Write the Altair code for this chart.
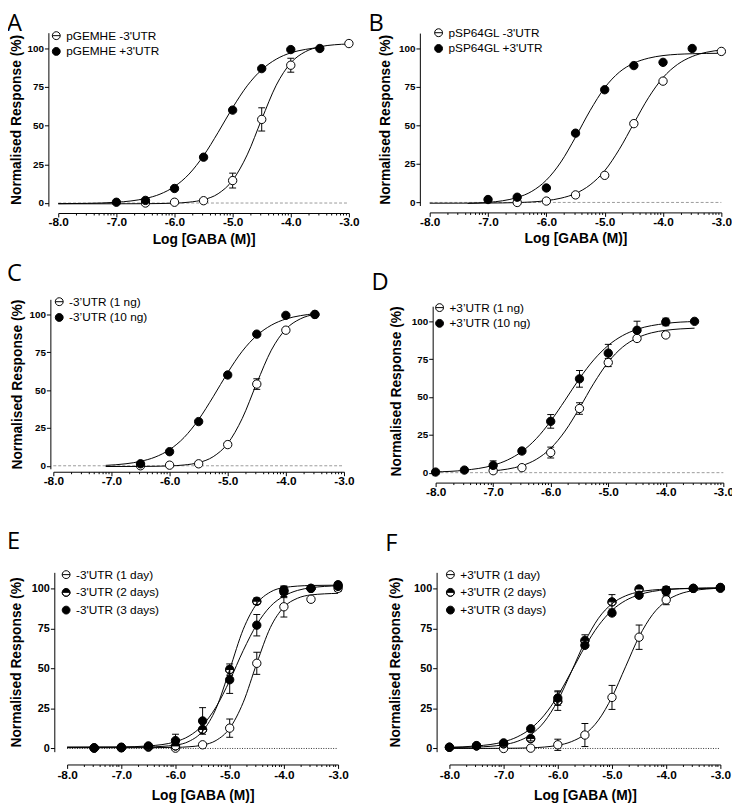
import numpy as np
import pandas as pd
import altair as alt

FONT = "Liberation Sans"
LETTER_FONT = "Open Sans"

# ---- symbol paths ----
CIRCLE = "M1,0A1,1,0,1,1,-1,0A1,1,0,1,1,1,0Z"
HALF = "M-1,0A1,1,0,0,1,1,0ZM1,0A1,1,0,0,1,-1,0A1,1,0,0,0,1,0"
OPEN_LEG = CIRCLE + "M-1,0L1,0"
KIND = {"open": (CIRCLE, "white", OPEN_LEG), "fill": (CIRCLE, "black", CIRCLE), "half": (HALF, "black", HALF)}

# ---- axis ticks ----
MAJOR = [-8, -7, -6, -5, -4, -3]
MINOR = [round(d + np.log10(k), 4) for d in MAJOR[:-1] for k in range(2, 10)]
XTICKS = sorted(MAJOR + MINOR)
YTICKS = [0, 25, 50, 75, 100]

# ================= DATA =================
# Panel A
A_open_x = [-6.5, -6.0, -5.5, -5.0, -4.5, -4.0, -3.0]
A_open_y = [0.0, 0.5, 1.5, 14.5, 54.0, 89.0, 103.0]
A_open_e = [0, 0, 0, 4.8, 7.5, 4.5, 0]
A_fill_x = [-7.0, -6.5, -6.0, -5.5, -5.0, -4.5, -4.0, -3.5]
A_fill_y = [0.5, 1.7, 9.4, 29.6, 60.0, 86.8, 99.1, 99.8]
A_fill_e = [0, 0, 0, 0, 0, 0, 0, 0]
A_open_cx = [-8.0, -7.0, -6.5, -6.0, -5.75, -5.5, -5.25, -5.0, -4.75, -4.5, -4.25, -4.0, -3.75, -3.5, -3.25, -3.0]
A_open_cy = [-0.5, -0.5, -0.44, -0.09, 0.55, 2.15, 6.0, 14.7, 31.1, 54.1, 76.1, 90.5, 97.7, 100.9, 102.2, 102.7]
A_fill_cx = [-8.0, -7.5, -7.0, -6.75, -6.5, -6.25, -6.0, -5.75, -5.5, -5.25, -5.0, -4.75, -4.5, -4.25, -4.0, -3.75, -3.5]
A_fill_cy = [-0.42, -0.22, 0.49, 1.33, 2.92, 5.72, 10.67, 18.7, 30.6, 45.6, 61.6, 75.7, 86.1, 92.9, 97.0, 99.2, 100.5]

# Panel B
B_open_x = [-6.5, -6.0, -5.5, -5.0, -4.5, -4.0, -3.0]
B_open_y = [0.0, 0.9, 4.9, 17.6, 51.2, 78.8, 98.1]
B_open_e = [0, 0, 0, 0, 0, 0, 0]
B_fill_x = [-7.0, -6.5, -6.0, -5.5, -5.0, -4.5, -4.0, -3.5]
B_fill_y = [1.9, 3.4, 9.4, 45.0, 73.2, 88.9, 91.0, 100.0]
B_fill_e = [0, 0, 0, 0, 0, 0, 0, 0]
B_open_cx = [-8.0, -7.5, -7.0, -6.5, -6.0, -5.75, -5.5, -5.25, -5.0, -4.75, -4.5, -4.25, -4.0, -3.75, -3.5, -3.25, -3.0]
B_open_cy = [-0.5, -0.47, -0.4, -0.08, 1.17, 2.77, 5.81, 11.4, 20.6, 34.5, 51.4, 68.0, 81.1, 89.7, 94.8, 97.6, 99.0]
B_fill_cx = [-7.35, -7.0, -6.75, -6.5, -6.25, -6.0, -5.75, -5.5, -5.25, -5.0, -4.75, -4.5, -4.25, -4.0, -3.5, -3.0]
B_fill_cy = [-0.62, 0.03, 1.1, 3.19, 7.2, 14.5, 26.3, 42.4, 59.7, 74.5, 84.6, 90.5, 93.7, 95.4, 96.6, 96.9]

# Panel C
C_open_x = [-6.5, -6.0, -5.5, -5.0, -4.5, -4.0, -3.5]
C_open_y = [0.0, 0.4, 1.3, 14.0, 54.0, 89.6, 100.0]
C_open_e = [0, 0, 0, 0, 3.5, 0, 0]
C_fill_x = [-6.5, -6.0, -5.5, -5.0, -4.5, -4.0, -3.5]
C_fill_y = [1.3, 9.3, 29.2, 60.0, 87.0, 99.4, 100.0]
C_fill_e = [0, 0, 0, 0, 0, 0, 0]
C_open_cx = [-7.1, -6.5, -6.0, -5.75, -5.5, -5.25, -5.0, -4.75, -4.5, -4.25, -4.0, -3.75, -3.5]
C_open_cy = [-0.5, -0.44, -0.1, 0.51, 2.1, 6.0, 14.7, 31.3, 54.6, 76.4, 90.3, 97.1, 100.1]
C_fill_cx = [-7.1, -6.75, -6.5, -6.25, -6.0, -5.75, -5.5, -5.25, -5.0, -4.75, -4.5, -4.25, -4.0, -3.75, -3.5]
C_fill_cy = [0.27, 1.33, 2.92, 5.72, 10.67, 18.7, 30.6, 45.6, 61.6, 75.7, 86.1, 92.9, 97.0, 99.2, 100.5]

# Panel D
D_open_x = [-7.0, -6.5, -6.0, -5.5, -5.0, -4.5, -4.0]
D_open_y = [1.3, 3.3, 13.3, 42.4, 72.8, 88.7, 91.0]
D_open_e = [0, 0, 3.6, 3.8, 2.7, 1.5, 0]
D_fill_x = [-8.0, -7.5, -7.0, -6.5, -6.0, -5.5, -5.0, -4.5, -4.0, -3.5]
D_fill_y = [0.4, 1.7, 4.8, 14.3, 33.9, 62.0, 79.0, 94.1, 99.6, 100.0]
D_fill_e = [0, 0, 3.0, 0, 4.5, 5.5, 5.8, 6.0, 2.5, 0]
D_open_cx = [-7.0, -6.75, -6.5, -6.25, -6.0, -5.75, -5.5, -5.25, -5.0, -4.75, -4.5, -4.25, -4.0, -3.75, -3.5]
D_open_cy = [1.2, 2.37, 4.62, 8.8, 16.1, 27.5, 42.7, 59.1, 73.1, 83.0, 89.0, 92.4, 94.1, 95.0, 95.5]
D_fill_cx = [-8.0, -7.5, -7.0, -6.75, -6.5, -6.25, -6.0, -5.75, -5.5, -5.25, -5.0, -4.75, -4.5, -4.0, -3.5]
D_fill_cy = [0.51, 1.6, 4.9, 8.4, 14.0, 22.5, 34.1, 47.9, 62.2, 74.6, 84.1, 90.6, 94.7, 98.6, 99.9]

# Panel E
E_x = [-7.5, -7.0, -6.5, -6.0, -5.5, -5.0, -4.5, -4.0, -3.5, -3.0]
E_open_y = [0.2, 0.4, 0.8, 0.2, 2.3, 12.7, 53.2, 88.5, 93.2, 100.0]
E_open_e = [0, 0, 0, 0, 0, 5.7, 6.9, 6.4, 0, 2.0]
E_half_y = [0.4, 0.6, 1.2, 1.6, 11.9, 49.3, 92.0, 99.0, 100.0, 102.3]
E_half_e = [0, 0, 0, 0, 0, 3.5, 2.0, 2.5, 0, 1.5]
E_fill_y = [0.4, 0.8, 1.6, 4.9, 17.2, 42.9, 77.0, 97.7, 100.0, 101.2]
E_fill_e = [0, 0, 0, 4.0, 8.3, 8.5, 6.7, 3.5, 0, 0]
E_open_cx = [-8.0, -6.5, -6.0, -5.75, -5.5, -5.25, -5.0, -4.75, -4.5, -4.25, -4.0, -3.75, -3.5, -3.0]
E_open_cy = [0.5, 0.5, 0.69, 1.06, 2.11, 5.03, 12.6, 28.8, 53.2, 75.5, 88.3, 93.8, 95.9, 96.9]
E_half_cx = [-8.0, -7.0, -6.5, -6.0, -5.75, -5.5, -5.25, -5.0, -4.75, -4.5, -4.25, -4.0, -3.5, -3.0]
E_half_cy = [0.8, 0.8, 0.95, 2.1, 4.46, 10.8, 25.1, 49.3, 74.4, 90.4, 97.7, 100.5, 101.8, 102.0]
E_fill_cx = [-8.0, -7.0, -6.5, -6.0, -5.75, -5.5, -5.25, -5.0, -4.75, -4.5, -4.25, -4.0, -3.75, -3.5, -3.0]
E_fill_cy = [0.8, 0.97, 1.59, 4.22, 7.76, 14.5, 26.0, 42.4, 61.2, 77.4, 88.7, 95.2, 98.7, 100.4, 101.6]

# Panel F
F_open_x = [-7.0, -6.5, -6.0, -5.5, -5.0, -4.5, -4.0, -3.0]
F_open_y = [0.0, 0.2, 2.3, 8.4, 31.9, 69.5, 92.8, 100.0]
F_open_e = [0, 0, 3.5, 7.2, 7.5, 7.6, 3.0, 0]
F_x = [-8.0, -7.5, -7.0, -6.5, -6.0, -5.5, -5.0, -4.5, -4.0, -3.5, -3.0]
F_half_y = [0.8, 1.6, 2.9, 6.2, 29.6, 67.5, 91.6, 99.6, 99.0, 100.0, 100.6]
F_half_e = [0, 0, 0, 1.5, 5.8, 3.5, 4.5, 0, 2.0, 0, 0]
F_fill_y = [0.8, 1.8, 3.5, 12.3, 31.5, 64.4, 84.6, 95.7, 98.1, 100.0, 100.4]
F_fill_e = [0, 0, 0, 0, 4.5, 0, 0, 0, 3.0, 0, 0]
F_open_cx = [-8.0, -7.0, -6.5, -6.0, -5.75, -5.5, -5.25, -5.0, -4.75, -4.5, -4.25, -4.0, -3.75, -3.5, -3.25, -3.0]
F_open_cy = [0.0, 0.09, 0.41, 1.97, 4.24, 8.9, 17.7, 32.1, 51.0, 69.8, 83.7, 92.1, 96.5, 98.6, 99.6, 100.1]
F_half_cx = [-8.0, -7.5, -7.0, -6.75, -6.5, -6.25, -6.0, -5.75, -5.5, -5.25, -5.0, -4.75, -4.5, -4.0, -3.5, -3.0]
F_half_cy = [0.58, 0.89, 2.33, 4.39, 8.59, 16.6, 29.9, 47.9, 66.6, 81.3, 90.4, 95.3, 97.8, 99.5, 99.9, 100.0]
F_fill_cx = [-8.0, -7.5, -7.0, -6.75, -6.5, -6.25, -6.0, -5.75, -5.5, -5.25, -5.0, -4.75, -4.5, -4.0, -3.5, -3.0]
F_fill_cy = [0.8, 1.56, 4.17, 7.2, 12.4, 20.8, 32.9, 48.0, 63.5, 76.7, 86.3, 92.4, 96.0, 99.2, 100.1, 100.4]

X_TITLE = "Log [GABA (M)]"
Y_TITLE = "Normalised Response (%)"
X_DOMAIN = [-8, -3]
Y_DOMAIN = [-2, 110]
IS_MAJOR = "abs(datum.value - round(datum.value)) < 0.001"


def panel(letter, series, c):
    pts_rows, crv_rows = [], []
    for label, kind, px, py, pe, cx, cy in series:
        for a, b, e in zip(px, py, pe):
            pts_rows.append({"series": label, "x": a, "y": b, "lo": b - e, "hi": b + e, "err": e})
        for a, b in zip(cx, cy):
            crv_rows.append({"curve": label, "x": a, "y": b})
    pts = pd.DataFrame(pts_rows)
    crv = pd.DataFrame(crv_rows)
    zero = pd.DataFrame({"zero": [0], "x0": [X_DOMAIN[0]], "x1": [X_DOMAIN[1]]})

    xscale = alt.Scale(domain=X_DOMAIN, range=[c["xl"], c["xr"]], nice=False, zero=False)
    yscale = alt.Scale(domain=Y_DOMAIN, range=[c["yb"], c["yt"]], nice=False, zero=False)
    xaxis = alt.Axis(
        values=XTICKS,
        labelExpr=f"{IS_MAJOR} ? ((datum.value < 0 ? '-' : '') + format(abs(datum.value), '.1f')) : ''",
        tickSize={"condition": {"test": IS_MAJOR, "value": 4}, "value": 2},
        offset=c["xoff"], grid=False, domainColor="black", tickColor="black",
        domainWidth=1, tickWidth=1, labelFont=FONT, labelFontSize=12, labelFontWeight="bold",
        labelColor="black", labelOverlap=False, labelPadding=c.get("xlp", 0), labelFlush=False,
        titleFont=FONT, titleFontSize=14, titleFontWeight="bold", titleColor="black",
        titlePadding=c.get("xtp", 5),
    )
    yaxis = alt.Axis(
        values=YTICKS, offset=c["yoff"], grid=False, domainColor="black", tickColor="black",
        tickSize=4, labelFont=FONT, labelFontSize=c["ylab"], labelFontWeight="bold",
        labelColor="black", labelPadding=1, labelFlush=False,
        titleFont=FONT, titleFontSize=14, titleFontWeight="bold", titleColor="black",
        titlePadding=c["ytp"],
    )
    xt = X_TITLE if c["xtitle"] else None

    def X(f):
        return alt.X(f"{f}:Q", scale=xscale, axis=xaxis, title=xt)

    def Y(f):
        return alt.Y(f"{f}:Q", scale=yscale, axis=yaxis, title=Y_TITLE)

    layers = []
    if c["dotted"]:
        zl = alt.Chart(zero).mark_rule(color="#333333", strokeWidth=1, strokeDash=[1, 1.5])
    else:
        zl = alt.Chart(zero).mark_rule(color="#9a9a9a", strokeWidth=1, strokeDash=[3, 2])
    layers.append(zl.encode(x=X("x0"), x2="x1:Q", y=Y("zero")))

    layers.append(
        alt.Chart(crv).mark_line(color="black", strokeWidth=1, interpolate="monotone")
        .encode(x=X("x"), y=Y("y"), detail="curve:N")
    )
    eb = alt.Chart(pts).transform_filter("datum.err > 0")
    layers.append(eb.mark_rule(color="black", strokeWidth=1).encode(x=X("x"), y=Y("lo"), y2="hi:Q"))
    layers.append(eb.mark_tick(orient="horizontal", size=7, thickness=1, color="black", opacity=1)
                  .encode(x=X("x"), y=Y("lo")))
    layers.append(eb.mark_tick(orient="horizontal", size=7, thickness=1, color="black", opacity=1)
                  .encode(x=X("x"), y=Y("hi")))

    labels, leg_shapes, leg_fills = [], [], []
    for label, kind, *_ in series:
        shp, fil, lshp = KIND[kind]
        labels.append(label)
        leg_shapes.append(lshp)
        leg_fills.append(fil)
        layers.append(
            alt.Chart(pts).transform_filter(alt.datum.series == label)
            .mark_point(shape=shp, fill=fil, stroke="black", strokeWidth=1, size=72, opacity=1, filled=True)
            .encode(x=X("x"), y=Y("y"))
        )

    leg = alt.Legend(
        title=None, orient="none", legendX=c["lx"], legendY=c["ly"], symbolOpacity=1,
        symbolSize=64, symbolStrokeWidth=1, symbolStrokeColor="black", labelFont=FONT,
        labelFontSize=12, labelColor="black", rowPadding=c["rp"], labelOffset=4,
        padding=0, offset=0,
    )
    layers.append(
        alt.Chart(pts).mark_point(filled=True, opacity=0, size=64, strokeWidth=1)
        .encode(
            x=X("x"), y=Y("y"),
            shape=alt.Shape("series:N", scale=alt.Scale(domain=labels, range=leg_shapes), legend=leg),
            fill=alt.Fill("series:N", scale=alt.Scale(domain=labels, range=leg_fills), legend=leg),
            stroke=alt.Stroke("series:N", scale=alt.Scale(domain=labels, range=["black"] * len(labels)),
                              legend=leg),
        )
    )
    return alt.layer(*layers).properties(
        width=c["W"], height=c["H"],
        title=alt.TitleParams(text=letter, anchor="start", frame="group", dx=c["tdx"],
                              offset=c["toff"], font=LETTER_FONT, fontSize=24,
                              fontWeight="normal", color="black"),
    )


pA = panel("A", [
    ("pGEMHE -3'UTR", "open", A_open_x, A_open_y, A_open_e, A_open_cx, A_open_cy),
    ("pGEMHE +3'UTR", "fill", A_fill_x, A_fill_y, A_fill_e, A_fill_cx, A_fill_cy),
], dict(W=360, H=250, xl=57, xr=352, yb=210, yt=34, yoff=-47, xoff=-33, ytp=4, xtp=5,
        lx=49, ly=31, tdx=5, toff=-36.9, ylab=10, rp=4, xtitle=True, dotted=False))

pB = panel("B", [
    ("pSP64GL -3'UTR", "open", B_open_x, B_open_y, B_open_e, B_open_cx, B_open_cy),
    ("pSP64GL +3'UTR", "fill", B_fill_x, B_fill_y, B_fill_e, B_fill_cx, B_fill_cy),
], dict(W=362, H=250, xl=62, xr=358, yb=209.4, yt=34.4, yoff=-52, xoff=-33.6, ytp=6, xtp=5,
        lx=65, ly=28, tdx=0, toff=-37, ylab=10, rp=4, xtitle=True, dotted=False))

pC = panel("C", [
    ("-3\u2019UTR (1 ng)", "open", C_open_x, C_open_y, C_open_e, C_open_cx, C_open_cy),
    ("-3\u2019UTR (10 ng)", "fill", C_fill_x, C_fill_y, C_fill_e, C_fill_cx, C_fill_cy),
], dict(W=360, H=260, xl=52, xr=347, yb=206.6, yt=34.6, yoff=-49, xoff=-50.4, ytp=5,
        lx=52, ly=31, tdx=5, toff=-21.3, ylab=10, rp=4, xtitle=False, dotted=False))

pD = panel("D", [
    ("+3\u2019UTR (1 ng)", "open", D_open_x, D_open_y, D_open_e, D_open_cx, D_open_cy),
    ("+3\u2019UTR (10 ng)", "fill", D_fill_x, D_fill_y, D_fill_e, D_fill_cx, D_fill_cy),
], dict(W=362, H=260, xl=68, xr=360, yb=213.6, yt=41.6, yoff=-65, xoff=-39.4, ytp=8,
        lx=66, ly=37, tdx=3, toff=-30.3, ylab=10, rp=4, xtitle=False, dotted=False))

pE = panel("E", [
    ("-3'UTR (1 day)", "open", E_x, E_open_y, E_open_e, E_open_cx, E_open_cy),
    ("-3'UTR (2 days)", "half", E_x, E_half_y, E_half_e, E_half_cx, E_half_cy),
    ("-3'UTR (3 days)", "fill", E_x, E_fill_y, E_fill_e, E_fill_cx, E_fill_cy),
], dict(W=360, H=250, xl=66, xr=341, yb=223.7, yt=41.7, yoff=-53, xoff=-13.3, ytp=8, xtp=8.6,
        xlp=1, lx=59, ly=38, tdx=5, toff=-23.2, ylab=11, rp=6, xtitle=True, dotted=True))

pF = panel("F", [
    ("+3'UTR (1 day)", "open", F_open_x, F_open_y, F_open_e, F_open_cx, F_open_cy),
    ("+3'UTR (2 days)", "half", F_x, F_half_y, F_half_e, F_half_cx, F_half_cy),
    ("+3'UTR (3 days)", "fill", F_x, F_fill_y, F_fill_e, F_fill_cx, F_fill_cy),
], dict(W=362, H=250, xl=82, xr=357, yb=223.7, yt=41.7, yoff=-69, xoff=-13.3, ytp=11, xtp=8.6,
        xlp=1, lx=77, ly=38, tdx=17, toff=-25.2, ylab=11, rp=6, xtitle=True, dotted=True))

IND = dict(shape="independent", fill="independent", stroke="independent")

chart = (
    alt.concat(pA, pB, pC, pD, pE, pF, columns=2, spacing=10, align="all", bounds="flush")
    .resolve_scale(**IND)
    .properties(padding={"left": -6, "top": -14.9, "right": -2.2, "bottom": 0})
    .configure(font=FONT)
    .configure_view(stroke="transparent", strokeWidth=0)
)

chart.save("out.html", embed_options={"renderer": "svg", "actions": False})
